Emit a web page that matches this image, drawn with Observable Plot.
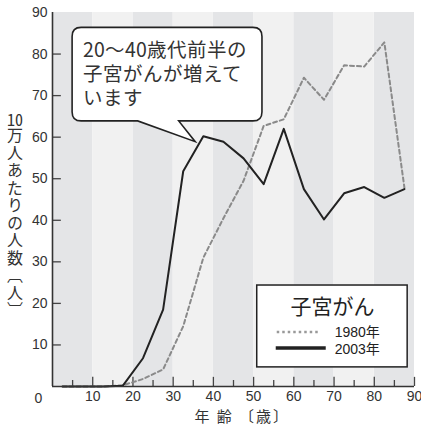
<!DOCTYPE html>
<html><head><meta charset="utf-8">
<script src="https://cdn.jsdelivr.net/npm/d3@7"></script>
<script src="https://cdn.jsdelivr.net/npm/@observablehq/plot@0.6"></script>
<style>
@font-face{font-family:"CalloutJP";src:local("Noto Sans CJK JP Regular"),local("NotoSansCJKjp-Regular"),local("Noto Sans CJK JP");ascent-override:88%;descent-override:12%;line-gap-override:0%;}
body{margin:0;background:#fff;}
#wrap{position:relative;width:421px;height:429px;overflow:hidden;}
#wrap svg{position:absolute;left:0;top:0;z-index:1;}
#ylab{position:absolute;z-index:2;left:6px;top:111px;writing-mode:vertical-rl;font-family:"Noto Sans CJK JP",sans-serif;font-size:16px;line-height:18px;color:#333;letter-spacing:1.5px;white-space:nowrap;}
#ylab .tcy{text-combine-upright:all;}
#callout{position:absolute;z-index:2;font-family:"CalloutJP","Noto Sans CJK JP",sans-serif;font-size:19.5px;line-height:24px;color:#333;white-space:nowrap;}
</style></head><body>
<div id="wrap"><div id="ylab"><span class="tcy">10</span>万人あたりの人数〔人〕</div><div id="callout"></div></div>
<script>
// ---- data ----
const ages = [2.5, 7.5, 12.5, 17.5, 22.5, 27.5, 32.5, 37.5, 42.5, 47.5, 52.5, 57.5, 62.5, 67.5, 72.5, 77.5, 82.5, 87.5];
const rate1980 = [0, 0, 0, 0.3, 1.8, 4.1, 14.5, 31, 40.5, 49.5, 62.7, 64.3, 74.3, 69, 77.3, 77, 82.8, 47.8];
const rate2003 = [0, 0, 0, 0.2, 6.8, 18.5, 51.8, 60.2, 58.9, 54.9, 48.7, 62, 47.5, 40.2, 46.5, 48, 45.4, 47.5];
const xTicks = [10, 20, 30, 40, 50, 60, 70, 80, 90];
const xMinorTicks = [5, 15, 25, 35, 45, 55, 65, 75, 85];
const yTicks = [10, 20, 30, 40, 50, 60, 70, 80, 90];
const yTickMarks = [10, 20, 30, 40, 50, 60, 70, 80];
const originLabel = ["0"];
const bandsDark = [[0, 10], [20, 30], [40, 50], [60, 70], [80, 90]];
const bandsLight = [[10, 20], [30, 40], [50, 60], [70, 80]];
const seriesNames = ["1980年", "2003年"];
const legendTitle = "子宮がん";
const calloutLines = ["20～40歳代前半の", "子宮がんが増えて", "います"];
const xLabel = "年 齢 〔歳〕";

const d1980 = ages.map((a, i) => ({age: a, v: rate1980[i]}));
const d2003 = ages.map((a, i) => ({age: a, v: rate2003[i]}));

const W = 421, H = 429;
const chart = Plot.plot({
  width: W, height: H,
  marginLeft: 52, marginRight: 7, marginTop: 12, marginBottom: 43,
  style: {fontFamily: "'Liberation Sans', Arial, sans-serif", fontSize: "14px", color: "#333", background: "#fff"},
  x: {domain: [0, 90]},
  y: {domain: [0, 90]},
  marks: [
    Plot.rect(bandsDark, {x1: d => d[0], x2: d => d[1], y1: 0, y2: 90, fill: "#e4e5e7"}),
    Plot.rect(bandsLight, {x1: d => d[0], x2: d => d[1], y1: 0, y2: 90, fill: "#f1f1f1"}),
    Plot.ruleX(xMinorTicks, {y1: 0, y2: 1.45, stroke: "#444", strokeWidth: 1.3}),
    Plot.ruleX(xTicks, {y1: 0, y2: 2.2, stroke: "#444", strokeWidth: 1.3}),
    Plot.ruleY(yTickMarks, {x1: 0, x2: 2.2, stroke: "#444", strokeWidth: 1.3}),
    Plot.line(d1980, {x: "age", y: "v", stroke: "#8a8a8a", strokeWidth: 2, strokeDasharray: "4,3"}),
    Plot.line(d2003, {x: "age", y: "v", stroke: "#222", strokeWidth: 2}),
    Plot.ruleX([0], {stroke: "#333", strokeWidth: 1.6}),
    Plot.ruleY([0], {stroke: "#333", strokeWidth: 1.6}),
    Plot.axisX(xTicks, {tickSize: 0, tickPadding: 5, label: null, fontSize: 14, fill: "#333"}),
    Plot.axisY(yTicks, {tickSize: 0, tickPadding: 5, label: null, fontSize: 14, fill: "#333"}),
    Plot.text(originLabel, {x: 0, y: 0, text: d => d, dx: -14, dy: 12, fontSize: 14, fill: "#333"})
  ]
});
document.getElementById("wrap").appendChild(chart);

const sx = chart.scale("x").apply, sy = chart.scale("y").apply;
const svg = d3.select(chart);
const cjk = "'Noto Sans CJK JP', sans-serif";

// callout (data-space anchors)
const cb = {x1: sx(5), x2: sx(52.2), y1: sy(86.3), y2: sy(63.8)};
const tip = {x: sx(35.6), y: sy(58.8)};
const armL = sx(21.3), armR = sx(31.5);
const r = 9;
const p = `M${cb.x1 + r},${cb.y1} H${cb.x2 - r} Q${cb.x2},${cb.y1} ${cb.x2},${cb.y1 + r} V${cb.y2 - r} Q${cb.x2},${cb.y2} ${cb.x2 - r},${cb.y2} H${armR} L${tip.x},${tip.y} L${armL},${cb.y2} H${cb.x1 + r} Q${cb.x1},${cb.y2} ${cb.x1},${cb.y2 - r} V${cb.y1 + r} Q${cb.x1},${cb.y1} ${cb.x1 + r},${cb.y1} Z`;
svg.append("path").attr("d", p).attr("fill", "#fff").attr("stroke", "#222").attr("stroke-width", 1.6).attr("stroke-linejoin", "miter");
const co = document.getElementById("callout");
co.style.left = sx(7.6) + "px";
co.style.top = (sy(80.8) - 12) + "px";
co.innerHTML = calloutLines.join("<br>");

// legend
const lg = {x1: sx(50.9), x2: sx(88.3), y1: sy(24.3), y2: sy(4.6)};
svg.append("rect").attr("x", lg.x1).attr("y", lg.y1).attr("width", lg.x2 - lg.x1).attr("height", lg.y2 - lg.y1)
  .attr("fill", "#fff").attr("stroke", "#222").attr("stroke-width", 1.5);
svg.append("text").attr("x", (lg.x1 + lg.x2) / 2 + 0.5).attr("y", lg.y1 + 20).attr("text-anchor", "middle")
  .attr("dominant-baseline", "central").attr("font-family", cjk).attr("font-size", 21).attr("fill", "#222").text(legendTitle);
svg.append("line").attr("x1", lg.x1 + 20).attr("x2", lg.x1 + 63).attr("y1", lg.y1 + 47).attr("y2", lg.y1 + 47)
  .attr("stroke", "#999").attr("stroke-width", 2.5).attr("stroke-dasharray", "2.5,3");
svg.append("line").attr("x1", lg.x1 + 19).attr("x2", lg.x1 + 69).attr("y1", lg.y1 + 63).attr("y2", lg.y1 + 63)
  .attr("stroke", "#222").attr("stroke-width", 3.5);
seriesNames.forEach((t, i) => {
  svg.append("text").attr("x", lg.x1 + 78).attr("y", lg.y1 + 47 + i * 16.5).attr("dominant-baseline", "central")
    .attr("text-anchor", "start")
    .attr("font-family", "'Liberation Sans', Arial, " + cjk).attr("font-size", 14).attr("fill", "#222").text(t);
});

// x label
svg.append("text").attr("x", sx(47.3)).attr("y", sy(0) + 29).attr("text-anchor", "middle").attr("dominant-baseline", "central")
  .attr("font-family", cjk).attr("font-size", 15).attr("letter-spacing", "2px").attr("fill", "#333").text(xLabel);
</script>
</body></html>
